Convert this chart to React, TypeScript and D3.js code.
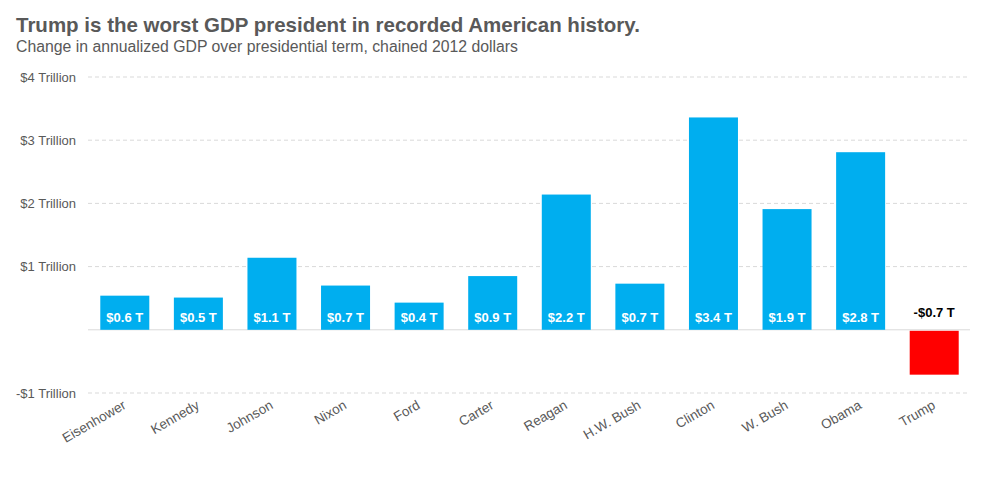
import React from "react";
import * as d3 from "d3";

const presidents = ["Eisenhower", "Kennedy", "Johnson", "Nixon", "Ford", "Carter", "Reagan", "H.W. Bush", "Clinton", "W. Bush", "Obama", "Trump"];
const gdpChange = [0.54, 0.51, 1.14, 0.70, 0.43, 0.85, 2.14, 0.73, 3.36, 1.91, 2.81, -0.71];
const barLabels = ["$0.6 T", "$0.5 T", "$1.1 T", "$0.7 T", "$0.4 T", "$0.9 T", "$2.2 T", "$0.7 T", "$3.4 T", "$1.9 T", "$2.8 T", "-$0.7 T"];
const yTicks = [-1, 1, 2, 3, 4];
const yTickLabels = ["-$1 Trillion", "$1 Trillion", "$2 Trillion", "$3 Trillion", "$4 Trillion"];

const W = 983, H = 486;
const left = 88, right = 971;
const x = d3.scaleBand().domain(presidents).range([left, right]).paddingInner(0.334).paddingOuter(0.167);
const y = d3.scaleLinear().domain([-1, 4]).range([393, 77]);

const FONT = "'Liberation Sans', Arial, sans-serif";
const NARROW = "'Liberation Sans Narrow', 'Arial Narrow', 'Liberation Sans', Arial, sans-serif";

export default function App() {
  return (
    <svg width={W} height={H} style={{ position: "absolute", left: 0, top: 0, background: "#fff" }} fontFamily={FONT}>
      <text x={16} y={32} fontSize={20.5} fontWeight="bold" fill="#595959">Trump is the worst GDP president in recorded American history.</text>
      <text x={16} y={52} fontSize={15.8} fill="#595959">Change in annualized GDP over presidential term, chained 2012 dollars</text>
      {yTicks.map((t, i) => (
        <g key={t}>
          <line x1={left} x2={right - 1} y1={y(t)} y2={y(t)} stroke="#d9d9d9" strokeDasharray="4 3" />
          <text x={76} y={y(t) + 4.5} textAnchor="end" fontSize={13} fill="#595959">{yTickLabels[i]}</text>
        </g>
      ))}
      <line x1={left} x2={right - 1} y1={y(0)} y2={y(0)} stroke="#d9d9d9" />
      {presidents.map((p, i) => {
        const v = gdpChange[i];
        const bx = x(p)!;
        const bw = x.bandwidth();
        const cx = bx + bw / 2;
        const neg = v < 0;
        return (
          <g key={p}>
            <rect x={bx} width={bw} y={neg ? y(0) + 1 : y(v)} height={Math.abs(y(v) - y(0)) - (neg ? 1 : 0)} fill={neg ? "#ff0000" : "#00aeef"} />
            <text x={cx} y={neg ? y(0) - 13 : y(0) - 8} textAnchor="middle" fontSize={13} fontWeight="bold" fontFamily={NARROW} fill={neg ? "#000" : "#fff"}>{barLabels[i]}</text>
            <text transform={`translate(${cx + 2},${y(0) + 78}) rotate(-30)`} textAnchor="end" fontSize={13.5} fill="#595959">{p}</text>
          </g>
        );
      })}
    </svg>
  );
}
